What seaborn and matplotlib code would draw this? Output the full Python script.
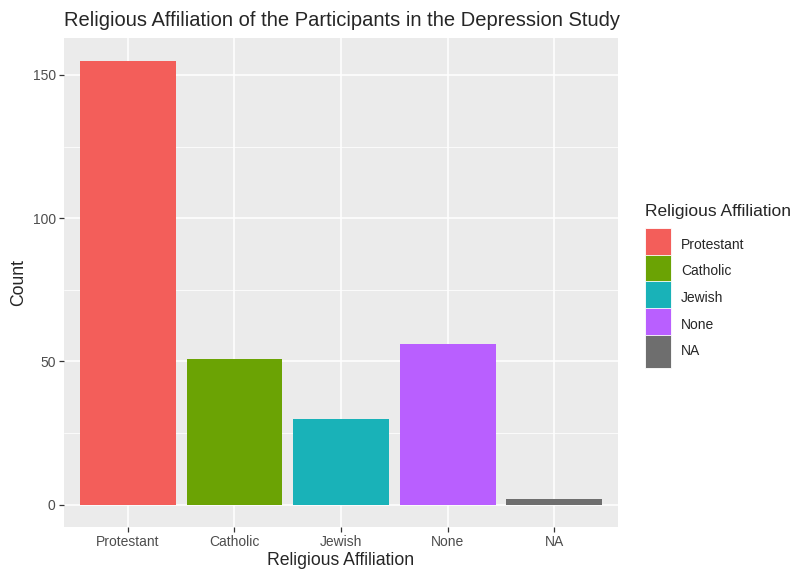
import matplotlib
matplotlib.use("Agg")
import matplotlib.pyplot as plt
from matplotlib.patches import Patch, Rectangle
from matplotlib.legend_handler import HandlerPatch
from matplotlib.ticker import MultipleLocator
import seaborn as sns
import pandas as pd

# Data
religions = ["Protestant", "Catholic", "Jewish", "None", "NA"]
counts = [155, 51, 30, 56, 2]
colors = ["#F35E5A", "#6BA304", "#19B2B8", "#B95FFF", "#6E6E6E"]

data = pd.DataFrame({"religion": religions, "count": counts})

sns.set_theme(style="darkgrid")
plt.rcParams["font.family"] = ["Liberation Sans", "DejaVu Sans"]

fig = plt.figure(figsize=(7.95, 5.71), dpi=100)
ax = fig.add_axes([0.0805, 0.0771, 0.697, 0.8557])

sns.barplot(data=data, x="religion", y="count", hue="religion",
            palette=dict(zip(religions, colors)), order=religions,
            width=0.9, saturation=1, legend=False, ax=ax, zorder=2,
            linewidth=0)

# ggplot-like panel
ax.set_facecolor("#EBEBEB")
ax.set_axisbelow(True)
for s in ax.spines.values():
    s.set_visible(False)
ax.set_xlim(-0.6, 4.6)
ax.set_ylim(-7.75, 162.75)
ax.yaxis.set_major_locator(MultipleLocator(50))
ax.yaxis.set_minor_locator(MultipleLocator(25))
ax.grid(which="major", color="white", linewidth=1.1)
ax.grid(which="minor", axis="y", color="white", linewidth=0.55)
ax.tick_params(which="major", length=3.5, width=0.9, color="#333333",
               labelsize=10, labelcolor="#4D4D4D", pad=2.5, left=True, bottom=True)
ax.tick_params(which="minor", length=0)

ax.set_title("Religious Affiliation of the Participants in the Depression Study",
             loc="left", fontsize=14.5, pad=9)
ax.set_xlabel("Religious Affiliation", fontsize=12.7, labelpad=2)
ax.set_ylabel("Count", fontsize=12.7, labelpad=4)


# legend keys fill the whole handle box (nudged to centre on the label), like ggplot's keys
def full_key(legend, orig_handle, xdescent, ydescent, width, height, fontsize):
    return Rectangle((-xdescent, -ydescent - 3), width, height + ydescent)


handles = [Patch(facecolor=c, edgecolor="white", linewidth=0.6) for c in colors]
leg = fig.legend(handles, religions, title="Religious Affiliation",
                 loc="upper left", bbox_to_anchor=(0.799, 0.659),
                 frameon=False, fontsize=10, title_fontsize=12.5,
                 handlelength=1.9, handleheight=2.35, labelspacing=0.15,
                 handletextpad=0.7, borderpad=0.2, alignment="left",
                 handler_map={Patch: HandlerPatch(patch_func=full_key)})
leg._legend_box.sep = 9  # gap between legend title and keys

fig.savefig("out.png", dpi=100)
